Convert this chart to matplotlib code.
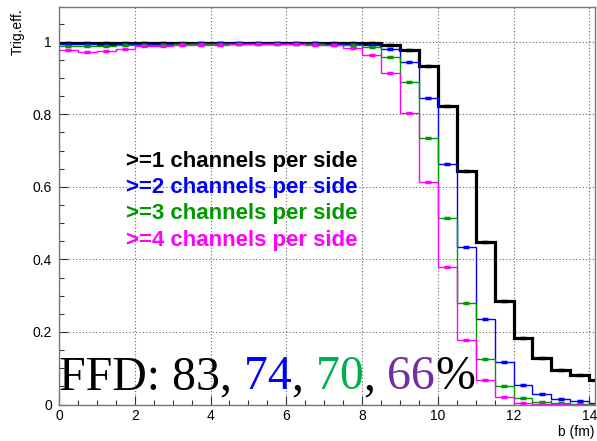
import numpy as np
import matplotlib
matplotlib.use("Agg")
import matplotlib.pyplot as plt
from matplotlib.ticker import MultipleLocator

# bin edges 0 .. 14.5 in steps of 0.5 (29 bins)
edges = np.arange(0, 14.51, 0.5)

eff_1 = [0.996, 0.996, 0.995, 0.996, 0.996, 0.996, 0.996, 0.996, 0.996, 0.996,
         0.996, 0.996, 0.996, 0.996, 0.996, 0.996, 0.995, 0.991, 0.978, 0.933,
         0.824, 0.644, 0.448, 0.284, 0.183, 0.127, 0.094, 0.081, 0.067]
eff_2 = [0.993, 0.993, 0.992, 0.994, 0.994, 0.994, 0.994, 0.995, 0.995, 0.995,
         0.995, 0.995, 0.995, 0.995, 0.994, 0.993, 0.990, 0.980, 0.944, 0.846,
         0.664, 0.433, 0.236, 0.116, 0.054, 0.029, 0.015, 0.010, 0.005]
eff_3 = [0.988, 0.987, 0.988, 0.990, 0.991, 0.992, 0.993, 0.994, 0.994, 0.994,
         0.994, 0.994, 0.994, 0.993, 0.992, 0.990, 0.985, 0.957, 0.888, 0.735,
         0.513, 0.280, 0.126, 0.052, 0.019, 0.008, 0.003, 0.001, 0.001]
eff_4 = [0.976, 0.971, 0.975, 0.980, 0.987, 0.988, 0.990, 0.992, 0.992, 0.993,
         0.993, 0.993, 0.993, 0.992, 0.990, 0.982, 0.964, 0.913, 0.804, 0.612,
         0.378, 0.178, 0.068, 0.021, 0.005, 0.002, 0.0005, 0.0, 0.0]

labels = [">=1 channels per side", ">=2 channels per side",
          ">=3 channels per side", ">=4 channels per side"]
colors = ["black", "#0000ff", "#009900", "#ff00ff"]
widths = [2.3, 1.0, 1.0, 1.0]

ffd_parts = [("FFD: 83,", "black"), (" 74", "#0000ff"), (",", "black"),
             (" 70", "#00b050"), (",", "black"), (" 66", "#7030a0"), ("%", "black")]

W, H = 597, 441
fig = plt.figure(figsize=(W / 100, H / 100), dpi=100)
ax = fig.add_axes([59 / W, 1 - 404.5 / H, (595 - 59) / W, (404.5 - 7) / H])

centers = 0.5 * (edges[:-1] + edges[1:])
for vals, c, lw in zip([eff_1, eff_2, eff_3, eff_4], colors, widths):
    ax.stairs(vals, edges, baseline=None, color=c, lw=lw)
    ax.plot(centers, vals, ls="none", marker="_", ms=4, mew=2.5, color=c)

ax.set_xlim(0, 14.15)
ax.set_ylim(0, 1.0956)

ax.xaxis.set_major_locator(MultipleLocator(2))
ax.xaxis.set_minor_locator(MultipleLocator(0.5))
ax.yaxis.set_major_locator(MultipleLocator(0.2))
ax.yaxis.set_minor_locator(MultipleLocator(0.05))
ax.set_yticks([0, 0.2, 0.4, 0.6, 0.8, 1.0])
ax.set_yticklabels(["0", "0.2", "0.4", "0.6", "0.8", "1"])
ax.tick_params(which="both", direction="in", top=False, right=False,
               labelsize=10, colors="black", labelfontfamily="Liberation Sans")
ax.tick_params(which="major", length=6.5, width=0.8, color="#333333")
ax.tick_params(which="minor", length=3.6, width=0.8, color="#333333")
ax.tick_params(axis="y", pad=5)
ax.tick_params(axis="x", pad=3)
for s in ax.spines.values():
    s.set_color("#777777")
    s.set_linewidth(1.0)
ax.grid(True, which="major", ls=(0, (1, 2)), color="#666666", lw=0.8)
ax.set_axisbelow(True)

fig.text(595 / W, 1 - 432 / H, "b (fm)", ha="right", va="center",
         fontsize=10, family="Liberation Sans")
fig.text(18 / W, 1 - 8 / H, "Trig.eff.", ha="center", va="top", rotation=90,
         fontsize=10, family="Liberation Sans")

ys = [161, 187.5, 213.5, 240]
for lab, c, y in zip(labels, colors, ys):
    fig.text(126 / W, 1 - y / H, lab, color=c, ha="left", va="center",
             fontsize=16, fontweight="bold", family="Liberation Sans")

t = fig.text(59 / W, 1 - 399 / H, ffd_parts[0][0], color=ffd_parts[0][1],
             ha="left", va="bottom", fontsize=34.5, family="Liberation Serif")
for s, c in ffd_parts[1:]:
    t = ax.annotate(s, xycoords=t, xy=(1, 0), va="bottom", color=c,
                    fontsize=34.5, family="Liberation Serif")

fig.savefig("out.png", dpi=100)
